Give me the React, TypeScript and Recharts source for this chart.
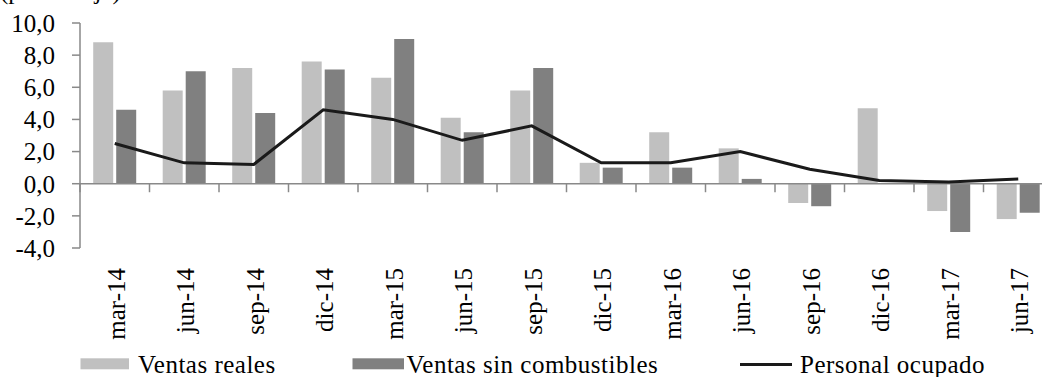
import React from 'react';
import { ComposedChart, Bar, Line, XAxis, YAxis, ReferenceLine } from 'recharts';

const periods = [
  'mar-14', 'jun-14', 'sep-14', 'dic-14',
  'mar-15', 'jun-15', 'sep-15', 'dic-15',
  'mar-16', 'jun-16', 'sep-16', 'dic-16',
  'mar-17', 'jun-17',
];
const ventasReales = [8.8, 5.8, 7.2, 7.6, 6.6, 4.1, 5.8, 1.3, 3.2, 2.2, -1.2, 4.7, -1.7, -2.2];
const ventasSinCombustibles = [4.6, 7.0, 4.4, 7.1, 9.0, 3.2, 7.2, 1.0, 1.0, 0.3, -1.4, 0.0, -3.0, -1.8];
const personalOcupado = [2.5, 1.3, 1.2, 4.6, 4.0, 2.7, 3.6, 1.3, 1.3, 2.0, 0.9, 0.2, 0.1, 0.3];
const yTicks = [-4, -2, 0, 2, 4, 6, 8, 10];

const data = periods.map((label, i) => ({
  label,
  reales: ventasReales[i],
  sinComb: ventasSinCombustibles[i],
  personal: personalOcupado[i],
}));

const FONT = 'Liberation Serif';
const AXIS_GRAY = '#898989';
const LIGHT = '#c0c0c0';
const DARK = '#808080';
const LINE = '#1a1a1a';

const fmt = (v: number) => v.toFixed(1).replace('.', ',');

const PeriodTick = (props: any) => {
  const { x, y, payload } = props;
  return (
    <g transform={`translate(${x},${y + 20})`}>
      <text transform="rotate(-90)" textAnchor="end" dy={10} fontSize={25} fontFamily={FONT} fill="#000">
        {payload.value}
      </text>
    </g>
  );
};

// legend entries: swatch start/width and where the label begins
const legendItems = [
  { name: 'Ventas reales', kind: 'bar', color: LIGHT, sx: 80.5, sw: 48.5, tx: 138 },
  { name: 'Ventas sin combustibles', kind: 'bar', color: DARK, sx: 352.5, sw: 51.5, tx: 406.5 },
  { name: 'Personal ocupado', kind: 'line', color: LINE, sx: 740, sw: 52, tx: 800 },
];

const ChartLegend = () => (
  <svg width={1042} height={40} style={{ position: 'absolute', left: 0, top: 345 }}>
    {legendItems.map((item) => (
      <g key={item.name}>
        {item.kind === 'bar' ? (
          <rect x={item.sx} y={13.3} width={item.sw} height={11} fill={item.color} />
        ) : (
          <line x1={item.sx} x2={item.sx + item.sw} y1={19.5} y2={19.5} stroke={item.color} strokeWidth={3} />
        )}
        <text x={item.tx} y={27.7} fontSize={25} fontFamily={FONT} letterSpacing={0.5} fill="#000">
          {item.name}
        </text>
      </g>
    ))}
  </svg>
);

const App: React.FC = () => {
  return (
    <div
      style={{
        position: 'absolute', left: 0, top: 0, width: 1042, height: 377,
        overflow: 'hidden', background: '#fff', fontFamily: FONT,
      }}
    >
      <svg width={200} height={10} style={{ position: 'absolute', left: 0, top: 0 }}>
        <text x={0} y={-1} fontSize={25} fontFamily={FONT} fill="#000">(porcentaje)</text>
      </svg>
      <div style={{ position: 'absolute', left: 0, top: 0 }}>
        <ComposedChart
          width={1060}
          height={377}
          data={data}
          margin={{ top: 23, right: 7, left: 0, bottom: 0 }}
          barCategoryGap="19%"
          barGap={3}
        >
          <XAxis
            dataKey="label"
            height={129}
            axisLine={false}
            tickLine={false}
            tickSize={0}
            tickMargin={0}
            interval={0}
            tick={<PeriodTick />}
          />
          <YAxis
            width={80}
            domain={[-4, 10]}
            ticks={yTicks}
            interval={0}
            tickFormatter={fmt}
            tickSize={8}
            tickMargin={17}
            axisLine={{ stroke: AXIS_GRAY, strokeWidth: 1.5 }}
            tickLine={{ stroke: AXIS_GRAY, strokeWidth: 1.5 }}
            tick={{ fontSize: 25, fontFamily: FONT, fill: '#000' }}
            allowDataOverflow
          />
          <Bar dataKey="reales" name="Ventas reales" fill={LIGHT} isAnimationActive={false} />
          <Bar dataKey="sinComb" name="Ventas sin combustibles" fill={DARK} isAnimationActive={false} />
          <ReferenceLine y={0} stroke={AXIS_GRAY} strokeWidth={1.5} />
          {/* short ticks below the zero line, at the category boundaries */}
          {periods.map((p) => (
            <ReferenceLine
              key={p}
              position="start"
              segment={[{ x: p, y: 0 }, { x: p, y: -0.53 }]}
              stroke={AXIS_GRAY}
              strokeWidth={1.5}
            />
          ))}
          <Line
            dataKey="personal"
            name="Personal ocupado"
            type="linear"
            stroke={LINE}
            strokeWidth={3}
            dot={false}
            isAnimationActive={false}
          />
        </ComposedChart>
      </div>
      <ChartLegend />
    </div>
  );
};

export default App;
